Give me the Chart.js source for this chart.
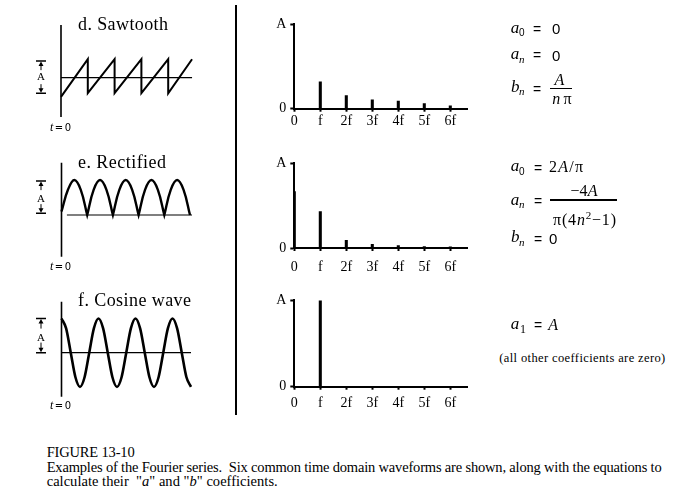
<!DOCTYPE html>
<html><head><meta charset="utf-8">
<script src="https://cdn.jsdelivr.net/npm/chart.js@4.4.1/dist/chart.umd.min.js"></script>
<style>
html,body{margin:0;padding:0;background:#fff;}
body{width:695px;height:502px;position:relative;overflow:hidden;}
canvas{position:absolute;}
.t{position:absolute;white-space:nowrap;color:#000;}
.bar{position:absolute;background:#000;height:1.3px;}
</style></head><body>
<div class="bar" style="left:235px;top:5px;width:2px;height:410px"></div>
<canvas id="w1"></canvas><canvas id="w2"></canvas><canvas id="w3"></canvas>
<canvas id="s1"></canvas><canvas id="s2"></canvas><canvas id="s3"></canvas>
<script>
// ---------- data ----------
const harmonics = [0, 1, 2, 3, 4, 5, 6];
const freqLabels = ['0', 'f', '2f', '3f', '4f', '5f', '6f'];
const ampTickLabels = ['0', 'A'];
const sawSpectrum = [0, 0.32, 0.155, 0.105, 0.09, 0.06, 0.035];
const rectSpectrum = [0.667, 0.43, 0.09, 0.042, 0.028, 0.018, 0.014];
const cosSpectrum = [0, 1, 0, 0, 0, 0, 0];

const sawTime  = [0, 1, 1, 2, 2, 3, 3, 4, 4, 4.89];
const sawValue = [-0.58, 0.56, -0.47, 0.56, -0.47, 0.56, -0.47, 0.56, -0.47, 0.56];

const rectTime  = [0, 0.25, 0.5, 0.75, 1, 1, 1.25, 1.5, 1.75, 2, 2, 2.25, 2.5, 2.75, 3, 3, 3.25, 3.5, 3.75, 4, 4, 4.25, 4.5, 4.75, 5];
const rectValue = [0.1, 0.72, 1, 0.72, 0, 0, 0.72, 1, 0.72, 0, 0, 0.72, 1, 0.72, 0, 0, 0.72, 1, 0.72, 0, 0, 0.72, 1, 0.72, 0];

const cosTime  = [0, 0.125, 0.25, 0.375, 0.5, 0.625, 0.75, 0.875, 1, 1.125, 1.25, 1.375, 1.5, 1.625, 1.75, 1.875, 2, 2.125, 2.25, 2.375, 2.5, 2.625, 2.75, 2.875, 3, 3.125, 3.25, 3.375, 3.5];
const cosValue = [1, 0.71, 0, -0.71, -1, -0.71, 0, 0.71, 1, 0.71, 0, -0.71, -1, -0.71, 0, 0.71, 1, 0.71, 0, -0.71, -1, -0.71, 0, 0.71, 1, 0.71, 0, -0.71, -1];

// ---------- helpers ----------
Chart.defaults.font.family = '"Liberation Serif", serif';
Chart.defaults.color = '#000';
const BASE = {'Liberation Serif': 0.8375, 'Liberation Sans': 0.8465, 'DejaVu Sans': 0.846};

function pts(xs, ys) { return xs.map((x, i) => ({x: x, y: ys[i]})); }

const bracketPlugin = {
  id: 'bracket',
  afterDatasetsDraw(chart, args, o) {
    const ctx = chart.ctx, xs = chart.scales.x, ys = chart.scales.y;
    const bx = xs.getPixelForValue(0) + o.dx;
    const yt = ys.getPixelForValue(o.top), yb = ys.getPixelForValue(o.bottom);
    const mid = (yt + yb) / 2;
    ctx.save();
    ctx.strokeStyle = '#000'; ctx.fillStyle = '#000'; ctx.lineWidth = 1.5;
    ctx.beginPath();
    ctx.moveTo(bx - 5, yt); ctx.lineTo(bx + 5, yt);
    ctx.moveTo(bx - 5, yb); ctx.lineTo(bx + 5, yb);
    ctx.stroke();
    ctx.lineWidth = 1;
    ctx.beginPath();
    ctx.moveTo(bx, yt + 3); ctx.lineTo(bx, mid - 7);
    ctx.moveTo(bx, yb - 3); ctx.lineTo(bx, mid + 7);
    ctx.stroke();
    ctx.beginPath();
    ctx.moveTo(bx, yt + 0.5); ctx.lineTo(bx - 2.5, yt + 5); ctx.lineTo(bx + 2.5, yt + 5); ctx.closePath();
    ctx.moveTo(bx, yb - 0.5); ctx.lineTo(bx - 2.5, yb - 5); ctx.lineTo(bx + 2.5, yb - 5); ctx.closePath();
    ctx.fill();
    ctx.restore();
  }
};

function setCanvas(cv, box) {
  cv.width = box.w; cv.height = box.h;
  cv.style.left = box.x + 'px'; cv.style.top = box.y + 'px';
  cv.style.width = box.w + 'px'; cv.style.height = box.h + 'px';
}

function waveChart(id, box, map, wave, extent, bracket) {
  const cv = document.getElementById(id);
  setCanvas(cv, box);
  const xmin = (box.x - map.x0) / map.px, xmax = (box.x + box.w - map.x0) / map.px;
  const ymax = (map.zero - box.y) / map.k, ymin = (map.zero - box.y - box.h) / map.k;
  const line = (data, w, extra) => Object.assign({type: 'line', data: data, borderColor: '#000', borderWidth: w,
    pointRadius: 0, fill: false, borderJoinStyle: 'miter', borderCapStyle: 'butt'}, extra || {});
  return new Chart(cv, {
    type: 'line',
    data: {datasets: [
      line([{x: 0, y: extent.top}, {x: 0, y: extent.bottom}], 1.6),
      line([{x: extent.m0, y: 0}, {x: extent.m1, y: 0}], 1.2),
      line(wave.data, wave.width, wave.opts)
    ]},
    options: {
      responsive: false, animation: false, events: [],
      layout: {padding: 0},
      plugins: {legend: {display: false}, tooltip: {enabled: false}, bracket: bracket},
      scales: {
        x: {type: 'linear', display: false, min: xmin, max: xmax},
        y: {type: 'linear', display: false, min: ymin, max: ymax}
      }
    },
    plugins: [bracketPlugin]
  });
}

function specChart(id, cfg, values) {
  const cv = document.getElementById(id);
  const axisX = 294.3, rightX = 467.7, step = 26.0;
  const box = {x: 250, y: cfg.topA - 12, w: 230};
  box.h = Math.round(cfg.zero - box.y + 26);
  setCanvas(cv, box);
  const xH = box.y + box.h - cfg.zero;
  return new Chart(cv, {
    type: 'bar',
    data: {datasets: [{data: pts(harmonics, values), backgroundColor: '#000', borderWidth: 0, barThickness: 2.4}]},
    options: {
      responsive: false, animation: false, events: [],
      layout: {padding: {left: 0, right: box.x + box.w - rightX, top: cfg.topA - box.y, bottom: 0}},
      plugins: {legend: {display: false}, tooltip: {enabled: false}},
      scales: {
        x: {
          type: 'linear', min: 0, max: (rightX - axisX) / step, offset: false,
          afterBuildTicks: s => { s.ticks = harmonics.map(v => ({value: v})); },
          afterFit: s => { s.height = xH; },
          ticks: {callback: (v, i) => freqLabels[i], font: {size: 14}, padding: cfg.lpad, maxRotation: 0, autoSkip: false},
          grid: {offset: false, drawOnChartArea: false, tickLength: 3, tickWidth: 2, color: '#000'},
          border: {width: 2, color: '#000'}
        },
        y: {
          type: 'linear', min: 0, max: 1,
          afterBuildTicks: s => { s.ticks = [{value: 0}, {value: 1}]; },
          afterFit: s => { s.width = axisX - box.x; },
          ticks: {callback: (v, i) => ampTickLabels[i], font: {size: 14}, padding: 4},
          grid: {drawOnChartArea: false, tickLength: 4, tickWidth: 2, color: '#000'},
          border: {width: 2, color: '#000'}
        }
      }
    }
  });
}

// ---------- waveforms ----------
waveChart('w1', {x: 20, y: 15, w: 185, h: 110}, {x0: 61, px: 26.8, zero: 77.7, k: 33},
  {data: pts(sawTime, sawValue), width: 2, opts: {tension: 0}},
  {top: 1.597, bottom: -1.19, m0: 0, m1: 4.89}, {top: 0.506, bottom: -0.473, dx: -20});
waveChart('w2', {x: 20, y: 155, w: 185, h: 108}, {x0: 61.5, px: 25.7, zero: 215, k: 35},
  {data: pts(rectTime, rectValue), width: 2.4, opts: {tension: 0.4}},
  {top: 1.494, bottom: -1.19, m0: 0.21, m1: 5.08}, {top: 0.971, bottom: 0.05, dx: -20.5});
waveChart('w3', {x: 20, y: 293, w: 185, h: 108}, {x0: 61.5, px: 37, zero: 352.7, k: 34.2},
  {data: pts(cosTime, cosValue), width: 2.6, opts: {cubicInterpolationMode: 'monotone'}},
  {top: 1.49, bottom: -1.287, m0: 0, m1: 3.5}, {top: 1.0, bottom: 0, dx: -20.5});

// ---------- spectra ----------
specChart('s1', {topA: 24.3, zero: 109, lpad: 1}, sawSpectrum);
specChart('s2', {topA: 162.7, zero: 247.7, lpad: 8}, rectSpectrum);
specChart('s3', {topA: 300, zero: 386.7, lpad: 5}, cosSpectrum);

// ---------- text ----------
function place(html, x, base, o) {
  const fam = o.font || 'Liberation Serif', size = o.size;
  const el = document.createElement('div');
  el.className = 't';
  el.innerHTML = html;
  el.style.fontFamily = '"' + fam + '"';
  el.style.fontSize = size + 'px';
  el.style.lineHeight = size + 'px';
  if (o.italic) el.style.fontStyle = 'italic';
  el.style.top = (base - size * BASE[fam]) + 'px';
  el.style.left = '0px';
  document.body.appendChild(el);
  let w = el.getBoundingClientRect().width;
  if (o.w) {
    const n = el.textContent.length;
    if (n > 1) el.style.letterSpacing = ((o.w - w) / (n - 1)) + 'px';
    w = o.w;
  }
  let left = x;
  if (o.align === 'center') left = x - w / 2;
  else if (o.align === 'right') left = x - w;
  el.style.left = left + 'px';
  return el;
}
function hbar(x0, x1, y) {
  const d = document.createElement('div');
  d.className = 'bar';
  d.style.left = x0 + 'px'; d.style.width = (x1 - x0) + 'px'; d.style.top = (y - 0.65) + 'px';
  document.body.appendChild(d);
}
const I = s => '<i>' + s + '</i>';
const SANS = 'Liberation Sans';

// titles
place('d. Sawtooth', 78, 30, {size: 18, w: 90});
place('e. Rectified', 78, 168.3, {size: 18, w: 88});
place('f. Cosine wave', 78, 306, {size: 18, w: 113});

// t=0 labels and bracket letters
[[130.7, 80.7], [270, 202.3], [409.3, 341]].forEach(([tb, ab]) => {
  place(I('t') + '<span style="font-family:\'DejaVu Sans\';font-size:10px">&#8202;=&#8202;0</span>', 50, tb, {size: 12, w: 21});
  place('A', 41, ab, {size: 11, align: 'center'});
});

// sawtooth coefficients
place(I('a'), 510.7, 33.3, {size: 17});
place('0', 519, 36.7, {size: 10, font: SANS});
place('=', 533, 33.8, {size: 14, font: SANS});
place('0', 552, 34, {size: 15, font: SANS});
place(I('a'), 510.7, 59, {size: 17});
place(I('n'), 519, 63, {size: 11});
place('=', 533, 60, {size: 14, font: SANS});
place('0', 552, 60.7, {size: 15, font: SANS});
place(I('b'), 511, 92, {size: 17});
place(I('n'), 519, 95, {size: 11});
place('=', 533, 94, {size: 14, font: SANS});
place(I('A'), 559.5, 85.3, {size: 16, align: 'center'});
hbar(550, 572.3, 88.3);
place(I('n') + '&#8201;&pi;', 562, 104, {size: 16, align: 'center'});

// rectified coefficients
place(I('a'), 510.7, 171.7, {size: 17});
place('0', 519, 175, {size: 10, font: SANS});
place('=', 534, 172.5, {size: 14, font: SANS});
place('2' + I('A') + '/&pi;', 549, 172.7, {size: 16, w: 34});
place(I('a'), 510.7, 205, {size: 17});
place(I('n'), 519, 208.5, {size: 11});
place('=', 534, 206, {size: 14, font: SANS});
place('&minus;4' + I('A'), 584, 196, {size: 16, align: 'center'});
hbar(550, 616.7, 200);
place('&pi;(4' + I('n') + '<sup style="font-size:11px;vertical-align:6px">2</sup>&minus;1)', 553, 220, {size: 16, w: 63});
place(I('b'), 511, 242.7, {size: 17});
place(I('n'), 519, 246, {size: 11});
place('=', 534, 243.5, {size: 14, font: SANS});
place('0', 549, 243.3, {size: 15, font: SANS});

// cosine coefficients
place(I('a'), 510.7, 329.3, {size: 17});
place('1', 520, 333.3, {size: 12});
place('=', 534, 330, {size: 14, font: SANS});
place(I('A'), 548.3, 330, {size: 16});
place('(all other coefficients are zero)', 499.3, 362.7, {size: 12.5, w: 166});

// caption
place('FIGURE 13-10', 46.7, 457.3, {size: 14.5, w: 88});
place('Examples of the Fourier series.&nbsp; Six common time domain waveforms are shown, along with the equations to', 46.7, 471.7, {size: 14.5, w: 615});
place('calculate their &nbsp;"' + I('a') + '" and "' + I('b') + '" coefficients.', 46.7, 486, {size: 14.5, w: 231});
</script>
</body></html>
